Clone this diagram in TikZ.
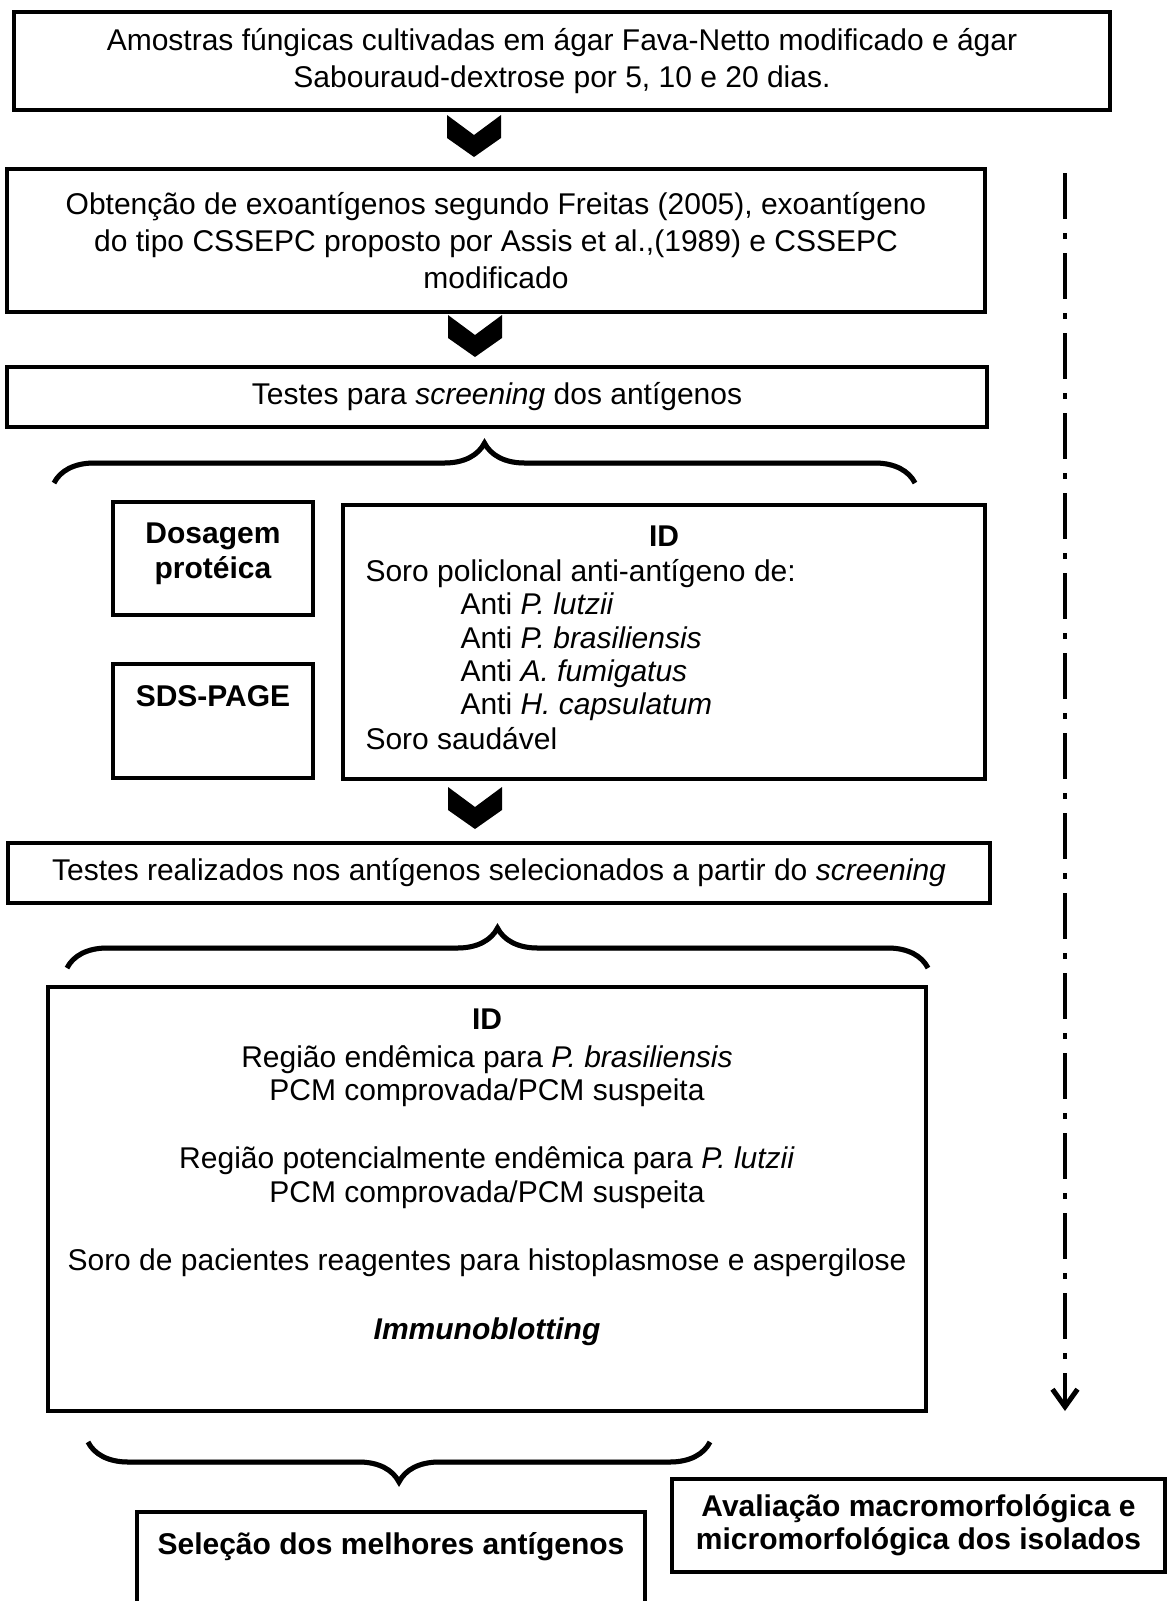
\documentclass[tikz,border=0pt]{standalone}
\usepackage{fontspec}
\setmainfont{Liberation Sans}
\usetikzlibrary{positioning,decorations.pathreplacing,arrows.meta}

\tikzset{
  flowbox/.style 2 args={draw, line width=1.7pt, inner sep=0pt, outer sep=0pt, align=center,
    minimum width=#1*0.4pt, minimum height=#2*0.4pt},
  txt/.style={inner sep=0pt, anchor=base},
  brc/.style={decorate, decoration={brace, amplitude=16pt}, line width=2pt},
  brcshade/.style={brc, draw=gray!65, yshift=-1.4pt},
  chev/.pic={\fill (-27,0) -- (0,20) -- (27,0) -- (27,23) -- (0,42) -- (-27,23) -- cycle;}
}

\begin{document}
\begin{tikzpicture}[x=0.4pt, y=-0.4pt, font=\fontsize{12}{13.5}\selectfont]
  \useasboundingbox (0,0) rectangle (1168,1601);

  % first steps
  \node[flowbox={1096}{98}, font=\fontsize{12}{14.8}\selectfont] (amostras) at (562,61)
    {Amostras fúngicas cultivadas em ágar Fava-Netto modificado e ágar\\ Sabouraud-dextrose por 5, 10 e 20 dias.};
  \pic at (474,115) {chev};
  \node[flowbox={978}{143}, font=\fontsize{12}{14.8}\selectfont] (exoant) at (496,240.5)
    {Obtenção de exoantígenos segundo Freitas (2005), exoantígeno\\ do tipo CSSEPC proposto por Assis et al.,(1989) e CSSEPC\\ modificado};
  \pic at (475,315) {chev};
  \node[flowbox={980}{60}] (screen) at (497,397) {Testes para \textit{screening} dos antígenos};

  \coordinate (b1l) at (54,483);
  \coordinate (b1r) at (915,483);
  \draw[brcshade] (b1l) -- (b1r);
  \draw[brc] (b1l) -- (b1r);

  % screening tests
  \node[flowbox={200}{113}] (dosagem) at (213,558.5) {};
  \node[txt, font=\fontsize{12}{13.5}\bfseries] at (213,543) {Dosagem};
  \node[txt, font=\fontsize{12}{13.5}\bfseries] at (213,578) {protéica};
  \node[flowbox={200}{114}] (sds) at (213,721) {};
  \node[txt, font=\fontsize{12}{13.5}\bfseries] at (213,706) {SDS-PAGE};

  \node[flowbox={642}{274}] (idbox) at (664,642) {};
  \node[txt] at (664,546) {\textbf{ID}};
  \node[txt, anchor=base west] at (365,581) {Soro policlonal anti-antígeno de:};
  \node[txt, anchor=base west] at (460,614) {Anti \textit{P. lutzii}};
  \node[txt, anchor=base west] at (460,648) {Anti \textit{P. brasiliensis}};
  \node[txt, anchor=base west] at (460,681) {Anti \textit{A. fumigatus}};
  \node[txt, anchor=base west] at (460,714) {Anti \textit{H. capsulatum}};
  \node[txt, anchor=base west] at (365,749) {Soro saudável};
  \pic at (475,787) {chev};

  \node[flowbox={982}{60}] (testes) at (499,873)
    {Testes realizados nos antígenos selecionados a partir do \textit{screening}};

  \coordinate (b2l) at (67,968);
  \coordinate (b2r) at (928,968);
  \draw[brcshade] (b2l) -- (b2r);
  \draw[brc] (b2l) -- (b2r);

  % tests with selected antigens
  \node[flowbox={878}{424}] (idbig) at (487,1199) {};
  \node[txt] at (487,1029) {\textbf{ID}};
  \node[txt] at (487,1067) {Região endêmica para \textit{P. brasiliensis}};
  \node[txt] at (487,1100) {PCM comprovada/PCM suspeita};
  \node[txt] at (487,1168) {Região potencialmente endêmica para \textit{P. lutzii}};
  \node[txt] at (487,1202) {PCM comprovada/PCM suspeita};
  \node[txt] at (487,1270) {Soro de pacientes reagentes para histoplasmose e aspergilose};
  \node[txt] at (487,1339) {\textbf{\textit{Immunoblotting}}};

  \coordinate (b3r) at (710,1442);
  \coordinate (b3l) at (88,1442);
  \draw[brcshade] (b3r) -- (b3l);
  \draw[brc] (b3r) -- (b3l);

  \node[flowbox={508}{128}] (selecao) at (391,1576) {};
  \node[txt, font=\fontsize{12}{13.5}\bfseries] at (391,1554) {Seleção dos melhores antígenos};
  \node[flowbox={493}{93}, font=\fontsize{12}{13.2}\bfseries] (avalia) at (918.5,1525.5)
    {Avaliação macromorfológica e\\ micromorfológica dos isolados};

  % timeline on the right
  \coordinate (tltop) at (1065,173);
  \coordinate (tlend) at (1065,1411);
  \draw[line width=1.3pt, dash pattern=on 18.4pt off 5.6pt on 2.4pt off 5.6pt,
    -{Straight Barb[length=7pt, width=10pt, line width=2pt]}] (tltop) -- (tlend);
\end{tikzpicture}
\end{document}
